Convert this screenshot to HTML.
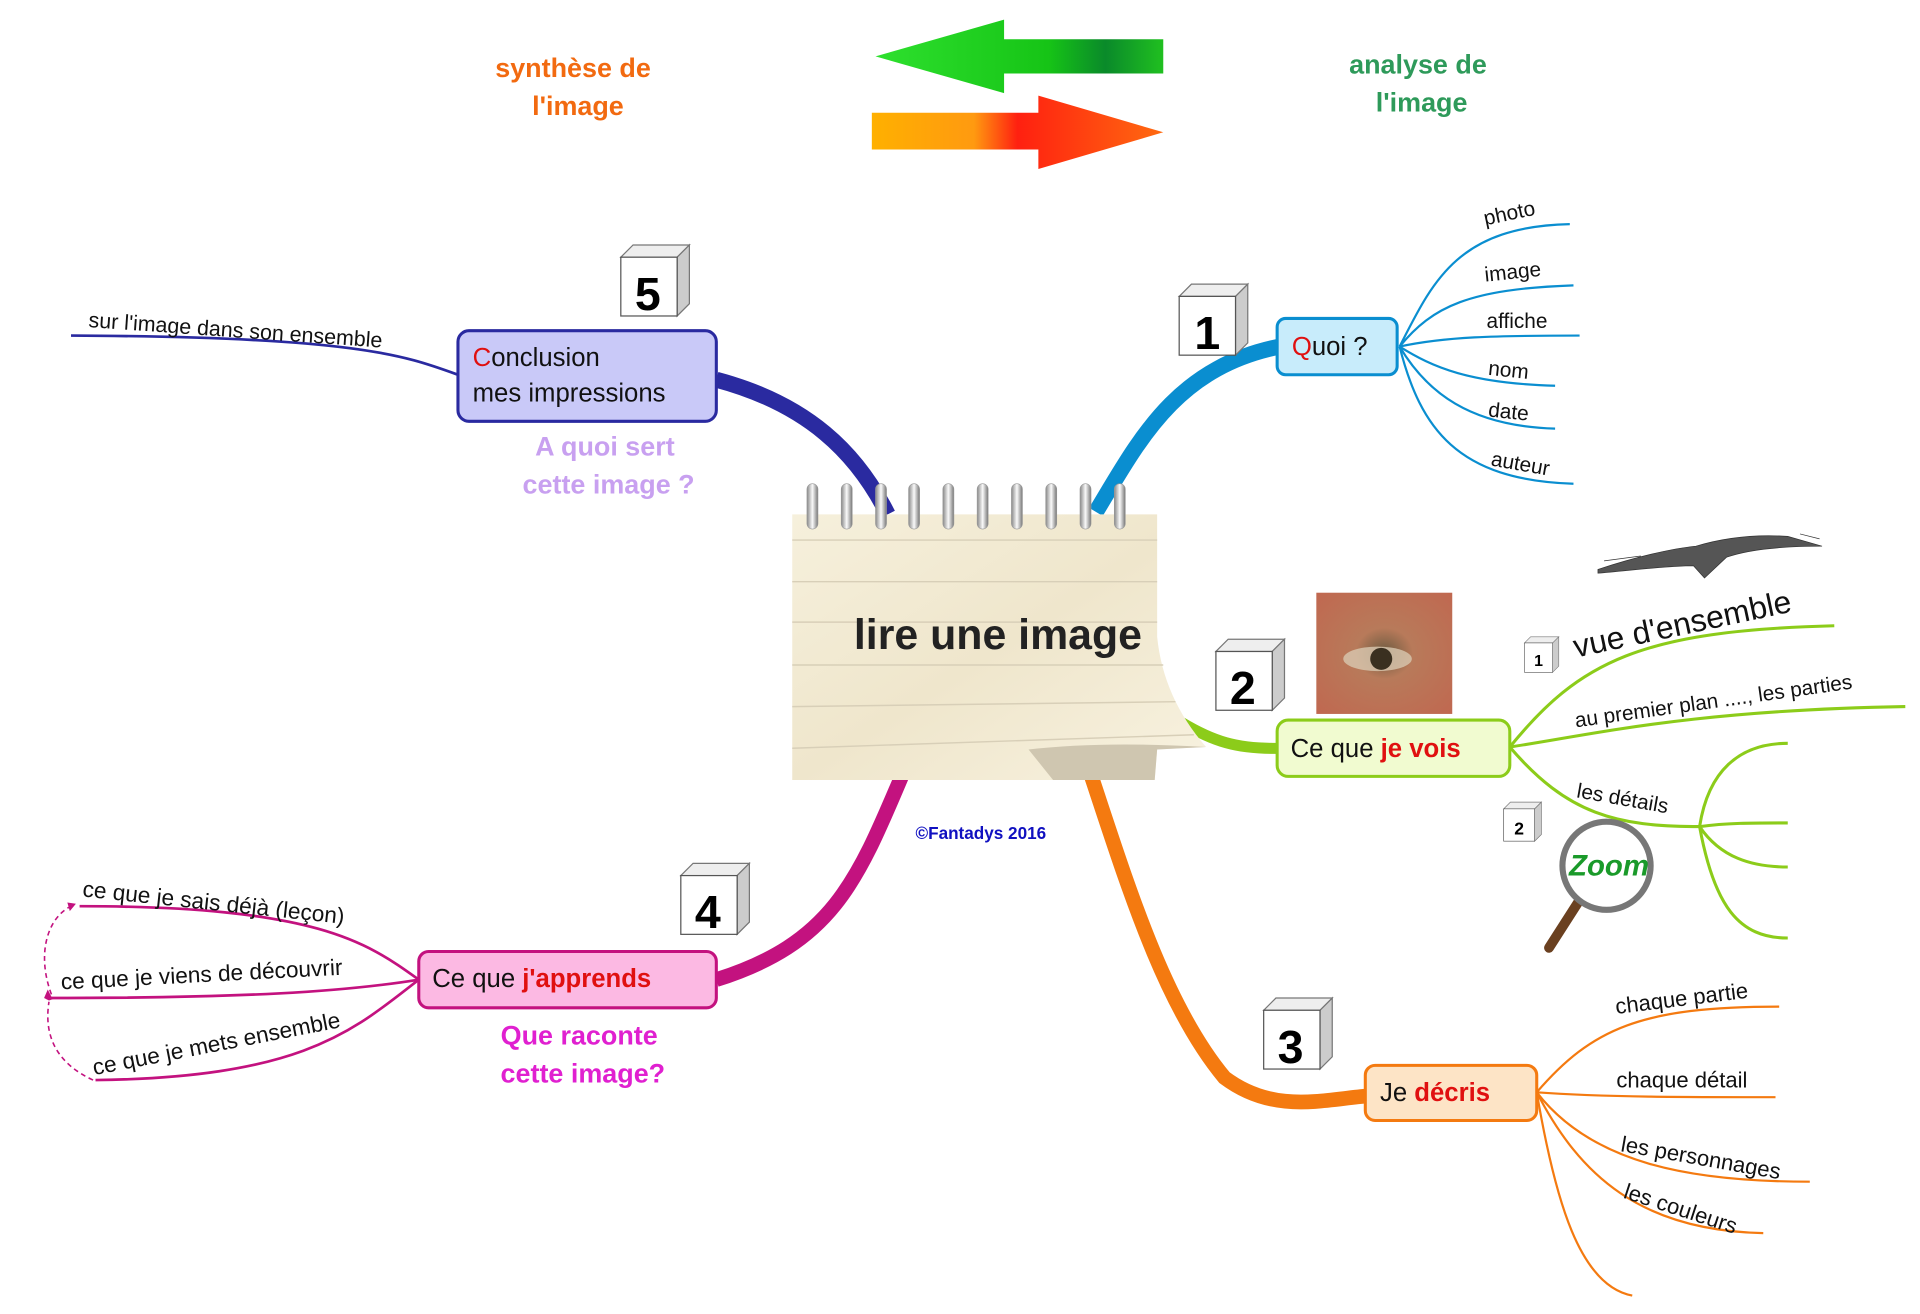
<!DOCTYPE html>
<html><head><meta charset="utf-8"><style>
html,body{margin:0;padding:0;background:#fff;width:1920px;height:1314px;overflow:hidden}
svg{display:block}
text{font-family:"Liberation Sans",sans-serif}
</style></head><body>
<svg width="1920" height="1314" viewBox="0 0 1568 1073" xmlns="http://www.w3.org/2000/svg">
<defs>
<linearGradient id="ga" x1="0" x2="1"><stop offset="0" stop-color="#2ee02e"/><stop offset="0.6" stop-color="#16c416"/><stop offset="0.8" stop-color="#0a8a2a"/><stop offset="1" stop-color="#20c020"/></linearGradient>
<linearGradient id="oa" x1="0" x2="1"><stop offset="0" stop-color="#ffb000"/><stop offset="0.35" stop-color="#ff9a10"/><stop offset="0.5" stop-color="#ff2010"/><stop offset="1" stop-color="#ff6a10"/></linearGradient>
<linearGradient id="paper" x1="0" y1="0" x2="1" y2="1"><stop offset="0" stop-color="#f6f0dc"/><stop offset="0.5" stop-color="#efe6cc"/><stop offset="1" stop-color="#f8f2e0"/></linearGradient>
<linearGradient id="ring" x1="0" x2="1"><stop offset="0" stop-color="#888"/><stop offset="0.5" stop-color="#fafafa"/><stop offset="1" stop-color="#777"/></linearGradient>
<radialGradient id="eye" cx="0.5" cy="0.5" r="0.7"><stop offset="0" stop-color="#6a5a40"/><stop offset="0.3" stop-color="#b87a5a"/><stop offset="1" stop-color="#c06850"/></radialGradient>
<g id="cube"><path d="M0 10 L10 0 L56 0 L46 10 Z" fill="#eee" stroke="#777"/><path d="M46 10 L56 0 L56 48 L46 58 Z" fill="#ccc" stroke="#777"/><rect x="0" y="10" width="46" height="48" fill="#fff" stroke="#555"/></g>
</defs>

<text x="468" y="63" font-size="22" font-weight="bold" fill="#f26a10" text-anchor="middle">synthèse de</text>
<text x="472" y="94" font-size="22" font-weight="bold" fill="#f26a10" text-anchor="middle">l'image</text>
<text x="1158" y="60" font-size="22" font-weight="bold" fill="#2e9a5a" text-anchor="middle">analyse de</text>
<text x="1161" y="91" font-size="22" font-weight="bold" fill="#2e9a5a" text-anchor="middle">l'image</text>
<path d="M715 46 L820 16 L820 32 L950 32 L950 60 L820 60 L820 76 Z" fill="url(#ga)"/>
<path d="M950 108 L848 78 L848 92 L712 92 L712 122 L848 122 L848 138 Z" fill="url(#oa)"/>

<path d="M895 418 C930 360 960 300 1045 283" stroke="#0a8ed0" stroke-width="13" fill="none"/>
<path d="M725 420 C700 370 660 330 585 310" stroke="#2a2aa0" stroke-width="13" fill="none"/>
<path d="M965 590 C990 605 1010 612 1045 611" stroke="#8ccc1a" stroke-width="9" fill="none"/>
<path d="M890 630 C920 720 950 820 1000 880 C1040 910 1080 898 1117 895" stroke="#f47a10" stroke-width="12" fill="none"/>
<path d="M738 630 C700 720 680 770 585 800" stroke="#c3127f" stroke-width="12" fill="none"/>

<path d="M647 420 L945 420 L945 520 Q950 570 985 610 L945 612 L943 637 L647 637 Z" fill="url(#paper)"/>
<path d="M840 612 Q900 605 985 610 L945 612 L943 637 L860 637 Z" fill="#cfc6b0"/>
<g stroke="#d8cfb8" stroke-width="1.2">
<line x1="647" y1="441" x2="945" y2="441"/><line x1="647" y1="475" x2="945" y2="475"/><line x1="647" y1="508" x2="945" y2="508"/><line x1="647" y1="543" x2="950" y2="543"/><line x1="647" y1="577" x2="960" y2="573"/><line x1="647" y1="611" x2="975" y2="600"/></g>
<g fill="url(#ring)" stroke="#999" stroke-width="0.5">
<rect x="659" y="395" width="9" height="37" rx="4.5"/><rect x="687" y="395" width="9" height="37" rx="4.5"/><rect x="715" y="395" width="9" height="37" rx="4.5"/><rect x="742" y="395" width="9" height="37" rx="4.5"/><rect x="770" y="395" width="9" height="37" rx="4.5"/><rect x="798" y="395" width="9" height="37" rx="4.5"/><rect x="826" y="395" width="9" height="37" rx="4.5"/><rect x="854" y="395" width="9" height="37" rx="4.5"/><rect x="882" y="395" width="9" height="37" rx="4.5"/><rect x="910" y="395" width="9" height="37" rx="4.5"/></g>
<text x="815" y="530" font-size="35" font-weight="bold" fill="#222" text-anchor="middle">lire une image</text>
<text x="801" y="685" font-size="14" font-weight="bold" fill="#1010c0" text-anchor="middle">©Fantadys 2016</text>

<use href="#cube" x="963" y="232"/><text x="986" y="285" font-size="38" font-weight="bold" text-anchor="middle">1</text>
<g stroke="#0a8ed0" stroke-width="1.8" fill="none">
<path d="M1143 283 C1170 230 1190 185 1282 183"/><path d="M1143 283 C1170 250 1200 236 1285 233"/><path d="M1143 283 C1180 275 1220 274 1290 274"/><path d="M1143 283 C1170 300 1200 313 1270 315"/><path d="M1143 283 C1165 320 1200 348 1270 350"/><path d="M1143 283 C1160 350 1190 392 1285 395"/></g>
<g font-size="17" fill="#111">
<text x="1213" y="184" transform="rotate(-12 1213 184)">photo</text>
<text x="1213" y="230" transform="rotate(-6 1213 230)">image</text>
<text x="1214" y="268">affiche</text>
<text x="1215" y="306" transform="rotate(6 1215 306)">nom</text>
<text x="1215" y="340" transform="rotate(6 1215 340)">date</text>
<text x="1217" y="380" transform="rotate(10 1217 380)">auteur</text></g>
<rect x="1043" y="260" width="98" height="46" rx="7" fill="#c8ecfb" stroke="#0a8ed0" stroke-width="2.5"/>
<text x="1055" y="290" font-size="21" fill="#111"><tspan fill="#e01010">Q</tspan>uoi ?</text>

<use href="#cube" x="993" y="522"/><text x="1015" y="575" font-size="38" font-weight="bold" text-anchor="middle">2</text>
<rect x="1075" y="484" width="111" height="99" fill="url(#eye)"/>
<ellipse cx="1125" cy="538" rx="28" ry="10" fill="#d8c8b0" opacity="0.8"/><circle cx="1128" cy="538" r="9" fill="#3a3020"/>
<g fill="#555" stroke="#333" stroke-width="0.6">
<path d="M1305 465 C1335 455 1365 448 1385 446 C1405 440 1430 436 1460 438 L1488 446 C1460 446 1430 448 1410 455 L1392 472 L1383 462 C1360 462 1330 466 1305 468 Z"/>
<path d="M1310 458 L1340 454 M1470 436 L1486 440" fill="none"/></g>
<g stroke="#8ccc1a" stroke-width="2.5" fill="none">
<path d="M1233 610 C1290 540 1340 515 1498 511"/><path d="M1233 610 C1300 600 1380 580 1556 577"/><path d="M1233 610 C1280 665 1320 675 1388 675"/>
<path d="M1388 675 C1395 630 1420 607 1460 607"/><path d="M1388 675 C1410 672 1430 672 1460 672"/><path d="M1388 675 C1405 700 1430 708 1460 708"/><path d="M1388 675 C1400 740 1420 766 1460 766"/></g>
<text x="1287" y="537" font-size="26" fill="#111" transform="rotate(-12 1287 537)">vue d'ensemble</text>
<text x="1287" y="594" font-size="17" fill="#111" transform="rotate(-8 1287 594)">au premier plan ...., les parties</text>
<text x="1287" y="651" font-size="17" fill="#111" transform="rotate(10 1287 651)">les détails</text>
<g transform="translate(1245 520) scale(0.5)"><use href="#cube"/><text x="23" y="48" font-size="26" font-weight="bold" text-anchor="middle">1</text></g>
<g transform="translate(1228 655) scale(0.55)"><use href="#cube"/><text x="23" y="48" font-size="26" font-weight="bold" text-anchor="middle">2</text></g>
<line x1="1290" y1="735" x2="1265" y2="774" stroke="#6a4020" stroke-width="8" stroke-linecap="round"/>
<circle cx="1312" cy="707" r="36" fill="#fff" stroke="#777" stroke-width="5"/>
<text x="1314" y="715" font-size="24" font-weight="bold" font-style="italic" fill="#1a9a2a" text-anchor="middle">Zoom</text>
<rect x="1043" y="588" width="190" height="46" rx="9" fill="#f1fbd0" stroke="#8ccc1a" stroke-width="2.5"/>
<text x="1054" y="618" font-size="21" fill="#111">Ce que <tspan fill="#e01010" font-weight="bold">je vois</tspan></text>

<use href="#cube" x="1032" y="815"/><text x="1054" y="868" font-size="38" font-weight="bold" text-anchor="middle">3</text>
<g stroke="#f47a10" stroke-width="1.8" fill="none">
<path d="M1255 892 C1300 840 1340 822 1453 822"/><path d="M1255 892 C1310 896 1380 896 1450 896"/><path d="M1255 892 C1300 950 1380 965 1478 965"/><path d="M1255 892 C1290 960 1340 1005 1440 1007"/><path d="M1255 892 C1270 980 1290 1050 1333 1058"/></g>
<g font-size="18" fill="#111">
<text x="1320" y="828" transform="rotate(-7 1320 828)">chaque partie</text>
<text x="1320" y="888">chaque détail</text>
<text x="1323" y="940" transform="rotate(10 1323 940)">les personnages</text>
<text x="1325" y="978" transform="rotate(18 1325 978)">les couleurs</text></g>
<rect x="1115" y="870" width="140" height="45" rx="8" fill="#fde4c6" stroke="#f47a10" stroke-width="2.5"/>
<text x="1127" y="899" font-size="21" fill="#111">Je <tspan fill="#e01010" font-weight="bold">décris</tspan></text>

<use href="#cube" x="556" y="705"/><text x="578" y="758" font-size="38" font-weight="bold" text-anchor="middle">4</text>
<g stroke="#c3127f" stroke-width="2.2" fill="none">
<path d="M342 800 C300 770 260 740 65 740"/><path d="M342 800 C280 810 200 815 38 815"/><path d="M342 800 C290 840 250 880 78 882"/></g>
<g stroke="#c3127f" stroke-width="1.3" fill="none" stroke-dasharray="4 3">
<path d="M76 882 C50 870 35 850 40 818"/><path d="M42 812 C30 780 38 750 58 740"/></g>
<path d="M40 817 l-4 -2 l3 -7 l4 8z M62 738 l-7 -1 l2 7z" fill="#c3127f"/>
<g font-size="18.5" fill="#111">
<text x="67" y="732" transform="rotate(6 67 732)">ce que je sais déjà (leçon)</text>
<text x="50" y="808" transform="rotate(-3 50 808)">ce que je viens de découvrir</text>
<text x="77" y="878" transform="rotate(-11 77 878)">ce que je mets ensemble</text></g>
<rect x="342" y="777" width="243" height="46" rx="8" fill="#fcb9e3" stroke="#c3127f" stroke-width="2.5"/>
<text x="353" y="806" font-size="21" fill="#111">Ce que <tspan fill="#e01010" font-weight="bold">j'apprends</tspan></text>
<text x="473" y="853" font-size="22" font-weight="bold" fill="#e020d0" text-anchor="middle">Que raconte</text>
<text x="476" y="884" font-size="22" font-weight="bold" fill="#e020d0" text-anchor="middle">cette image?</text>

<use href="#cube" x="507" y="200"/><text x="529" y="253" font-size="38" font-weight="bold" text-anchor="middle">5</text>
<path d="M374 306 C330 290 290 275 58 274" stroke="#2a2aa0" stroke-width="2.2" fill="none"/>
<text x="72" y="267" font-size="17.5" fill="#111" transform="rotate(4 72 267)">sur l'image dans son ensemble</text>
<rect x="374" y="270" width="211" height="74" rx="9" fill="#c9c9f8" stroke="#2a2aa0" stroke-width="2.5"/>
<text x="386" y="299" font-size="21" fill="#111"><tspan fill="#e01010">C</tspan>onclusion</text>
<text x="386" y="328" font-size="21" fill="#111">mes impressions</text>
<text x="494" y="372" font-size="22" font-weight="bold" fill="#c8a0f0" text-anchor="middle">A quoi sert</text>
<text x="497" y="403" font-size="22" font-weight="bold" fill="#c8a0f0" text-anchor="middle">cette image ?</text>
</svg>
</body></html>
